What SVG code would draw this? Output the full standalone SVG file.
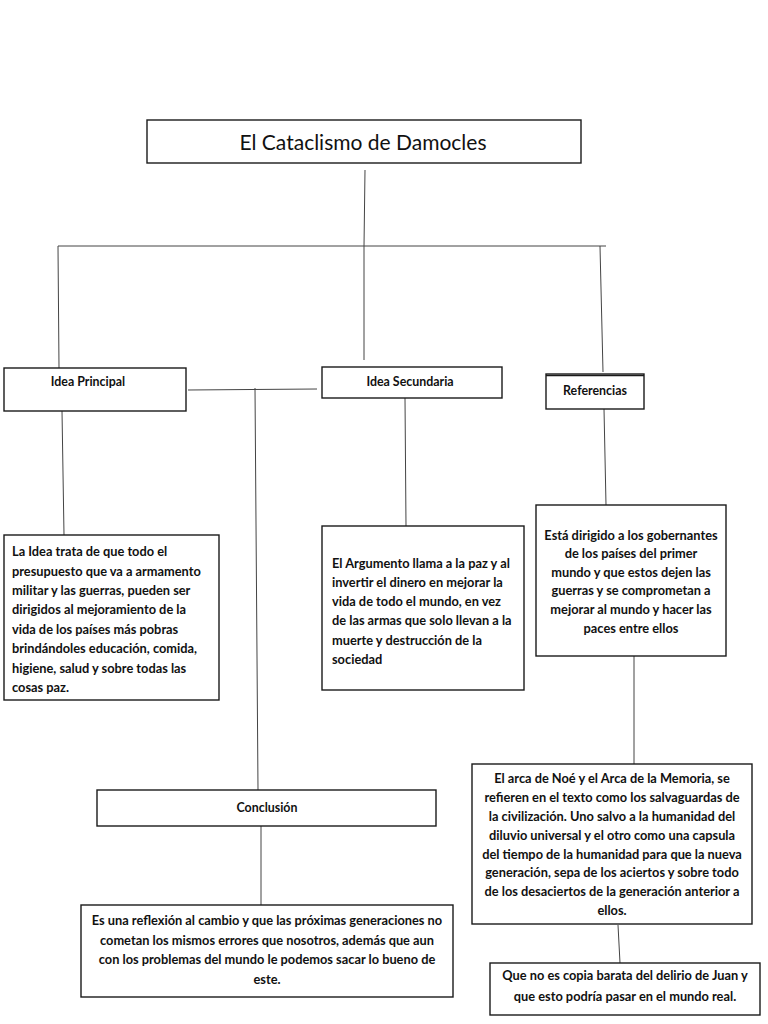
<svg xmlns="http://www.w3.org/2000/svg" width="768" height="1024" viewBox="0 0 768 1024">
<style>
.box{fill:#fff;stroke:#1a1a1a;stroke-width:1.4}
.ln{stroke:#444;stroke-width:1;fill:none}
.t{font-family:Lato,"Open Sans","Liberation Sans",sans-serif;font-weight:bold;font-size:12.8px;fill:#111}
.s{font-size:12.4px}
.c{text-anchor:middle}
.h{font-family:Lato,"Open Sans","Liberation Sans",sans-serif;font-size:21px;fill:#111;text-anchor:middle}
</style>
<rect width="768" height="1024" fill="#fff"/>
<g id="connectors">
<line class="ln" x1="365" y1="170" x2="364" y2="246"/>
<line class="ln" x1="58" y1="246" x2="606" y2="246"/>
<line class="ln" x1="58" y1="246" x2="59" y2="368"/>
<line class="ln" x1="364" y1="246" x2="364" y2="360"/>
<line class="ln" x1="600" y1="246" x2="603" y2="372"/>
<line class="ln" x1="188" y1="390" x2="317" y2="389"/>
<line class="ln" x1="255" y1="388" x2="258" y2="790"/>
<line class="ln" x1="62" y1="411" x2="64" y2="535"/>
<line class="ln" x1="405" y1="398" x2="406" y2="526"/>
<line class="ln" x1="604" y1="409" x2="606" y2="505"/>
<line class="ln" x1="634" y1="656" x2="634" y2="764"/>
<line class="ln" x1="618" y1="925" x2="620" y2="963"/>
<line class="ln" x1="261" y1="826" x2="261" y2="905"/>
</g>
<g id="title">
<rect class="box" x="147" y="120" width="434" height="43"/>
<text class="h" x="363" y="150">El Cataclismo de Damocles</text>
</g>
<g id="idea-principal">
<rect class="box" x="4" y="368" width="182" height="43"/>
<text class="t s c" x="88" y="386">Idea Principal</text>
</g>
<g id="idea-secundaria">
<rect class="box" x="322" y="367" width="180" height="31"/>
<text class="t s c" x="410" y="386">Idea Secundaria</text>
</g>
<g id="referencias">
<rect class="box" x="546" y="374" width="98" height="35"/>
<path d="M546 375.5 H644" stroke="#1a1a1a" stroke-width="1.4"/>
<text class="t s c" x="595" y="395">Referencias</text>
</g>
<g id="detalle-principal">
<rect class="box" x="4" y="535" width="215" height="165"/>
<text class="t" x="12" y="556">La Idea trata de que todo el</text>
<text class="t" x="12" y="576">presupuesto que va a armamento</text>
<text class="t" x="12" y="595">militar y las guerras, pueden ser</text>
<text class="t" x="12" y="614">dirigidos al mejoramiento de la</text>
<text class="t" x="12" y="634">vida de los países más pobras</text>
<text class="t" x="12" y="653">brindándoles educación, comida,</text>
<text class="t" x="12" y="673">higiene, salud y sobre todas las</text>
<text class="t" x="12" y="692">cosas paz.</text>
</g>
<g id="detalle-secundaria">
<rect class="box" x="322" y="526" width="202" height="164"/>
<text class="t" x="332" y="568">El Argumento llama a la paz y al</text>
<text class="t" x="332" y="587">invertir el dinero en mejorar la</text>
<text class="t" x="332" y="606">vida de todo el mundo, en vez</text>
<text class="t" x="332" y="625">de las armas que solo llevan a  la</text>
<text class="t" x="332" y="645">muerte y destrucción de la</text>
<text class="t" x="332" y="664">sociedad</text>
</g>
<g id="detalle-referencias">
<rect class="box" x="536" y="505" width="190" height="151"/>
<text class="t c" x="631" y="540">Está dirigido a los gobernantes</text>
<text class="t c" x="631" y="558">de los  países del primer</text>
<text class="t c" x="631" y="577">mundo y que estos dejen las</text>
<text class="t c" x="631" y="595">guerras y se comprometan a</text>
<text class="t c" x="631" y="614">mejorar al mundo y hacer las</text>
<text class="t c" x="631" y="633">paces entre ellos</text>
</g>
<g id="arca">
<rect class="box" x="472" y="764" width="280" height="160"/>
<text class="t c" x="612" y="783">El arca de Noé y el Arca de la Memoria, se</text>
<text class="t c" x="612" y="802">refieren en el texto como los salvaguardas de</text>
<text class="t c" x="612" y="821">la civilización. Uno salvo a la humanidad del</text>
<text class="t c" x="612" y="840">diluvio universal y el otro como una capsula</text>
<text class="t c" x="612" y="859">del tiempo de la humanidad para que la nueva</text>
<text class="t c" x="612" y="877">generación, sepa de los aciertos y sobre todo</text>
<text class="t c" x="612" y="896">de los desaciertos de la generación anterior a</text>
<text class="t c" x="612" y="915">ellos.</text>
</g>
<g id="delirio">
<rect class="box" x="490" y="963" width="270" height="52"/>
<text class="t c" x="625" y="980">Que no es copia barata del delirio de Juan y</text>
<text class="t c" x="625" y="1001">que esto podría pasar en el mundo real.</text>
</g>
<g id="conclusion">
<rect class="box" x="97" y="790" width="339" height="36"/>
<text class="t s c" x="267" y="812">Conclusión</text>
</g>
<g id="conclusion-texto">
<rect class="box" x="81" y="905" width="372" height="92"/>
<text class="t c" x="267" y="925">Es una reflexión al cambio y que las próximas generaciones no</text>
<text class="t c" x="267" y="945">cometan los mismos errores que nosotros, además que aun</text>
<text class="t c" x="267" y="964">con los problemas del mundo le podemos sacar lo bueno de</text>
<text class="t c" x="267" y="984">este.</text>
</g>
</svg>
